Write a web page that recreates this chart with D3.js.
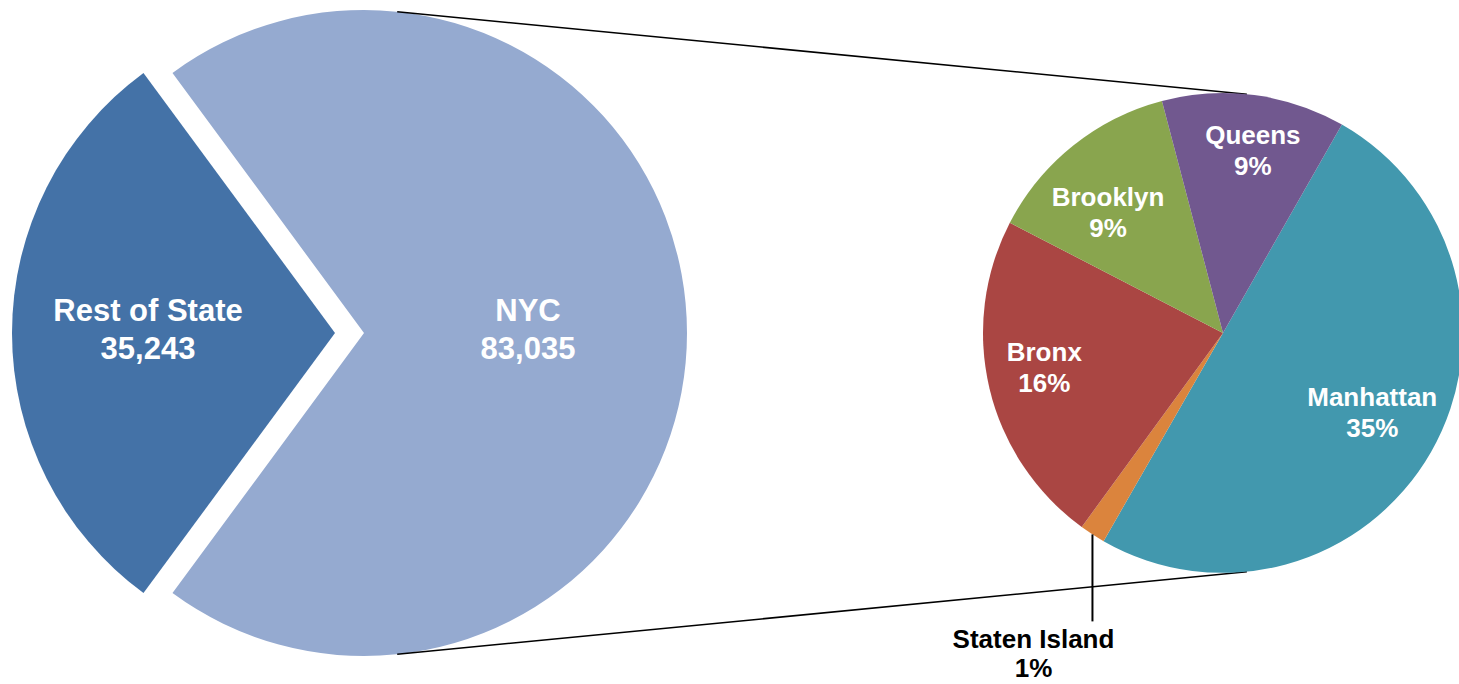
<!DOCTYPE html>
<html>
<head>
<meta charset="utf-8">
<script src="https://cdn.jsdelivr.net/npm/d3@7"></script>
<style>
  html, body { margin: 0; padding: 0; background: #fff; }
  svg { display: block; }
  text { font-family: "Liberation Sans", Arial, sans-serif; font-weight: bold; }
</style>
</head>
<body>
<svg id="chart" width="1459" height="684"></svg>
<script>
// ---- data ----
const mainCategories = ["NYC", "Rest of State"];
const mainValues = [83035, 35243];
const mainColors = ["#95AAD0", "#4472A7"];

const boroughCategories = ["Manhattan", "Staten Island", "Bronx", "Brooklyn", "Queens"];
const boroughValues = [41550, 1435, 18750, 11050, 10250];
const boroughColors = ["#4298AE", "#DB843D", "#AA4643", "#89A54E", "#71588F"];

const total = d3.sum(mainValues);
const fmtNum = d3.format(",");
const fmtPct = v => Math.round(v / total * 100) + "%";

const svg = d3.select("#chart");
const rad = deg => deg * Math.PI / 180;

// ---- left pie ----
const L = { cx: 364, cy: 333, r: 323, explode: 29 };
const restFrac = mainValues[1] / total;
const leftPie = d3.pie().sort(null)
  .startAngle(-Math.PI / 2 + Math.PI * restFrac)
  .endAngle(-Math.PI / 2 + Math.PI * restFrac + 2 * Math.PI);
const leftArc = d3.arc().innerRadius(0).outerRadius(L.r);
const leftData = leftPie(mainValues);
const gL = svg.append("g").attr("transform", `translate(${L.cx},${L.cy})`);
const leftLabelR = [164, 187];
leftData.forEach((d, i) => {
  const mid = (d.startAngle + d.endAngle) / 2;
  const off = i === 1 ? L.explode : 0;
  const ox = off * Math.sin(mid), oy = -off * Math.cos(mid);
  const g = gL.append("g").attr("transform", `translate(${ox},${oy})`);
  g.append("path").attr("d", leftArc(d)).attr("fill", mainColors[i]);
  const lx = leftLabelR[i] * Math.sin(mid), ly = -leftLabelR[i] * Math.cos(mid);
  const t = g.append("text").attr("text-anchor", "middle").attr("fill", "#fff")
    .attr("font-size", 31);
  t.append("tspan").attr("x", lx).attr("y", ly - 12).text(mainCategories[i]);
  t.append("tspan").attr("x", lx).attr("y", ly + 26).text(fmtNum(mainValues[i]));
});

// ---- right pie ----
const R = { cx: 1223, cy: 333, r: 240 };
const rStart = rad(29.7);
const rightPie = d3.pie().sort(null).startAngle(rStart).endAngle(rStart + 2 * Math.PI);
const rightArc = d3.arc().innerRadius(0).outerRadius(R.r);
const rightData = rightPie(boroughValues);

// connector lines
const connL = rad(5.9), connR = rad(5.7);
[[connL, connR], [Math.PI - connL, Math.PI - connR]].forEach(([a1, a2]) => {
  svg.append("line")
    .attr("x1", L.cx + L.r * Math.sin(a1)).attr("y1", L.cy - L.r * Math.cos(a1))
    .attr("x2", R.cx + R.r * Math.sin(a2)).attr("y2", R.cy - R.r * Math.cos(a2))
    .attr("stroke", "#000").attr("stroke-width", 1.5);
});

const gR = svg.append("g").attr("transform", `translate(${R.cx},${R.cy})`);
gR.selectAll("path").data(rightData).join("path")
  .attr("d", rightArc).attr("fill", (d, i) => boroughColors[i]);

// label placement (radius, angle nudge in degrees) per slice
const labelLayout = [[169, -1.8], [0, 0], [182, 2.4], [167, -4.8], [185, 1.8]];
rightData.forEach((d, i) => {
  const mid = (d.startAngle + d.endAngle) / 2;
  if (boroughCategories[i] === "Staten Island") {
    const ex = R.r * Math.sin(mid), ey = -R.r * Math.cos(mid);
    gR.append("line").attr("x1", ex).attr("y1", ey).attr("x2", ex).attr("y2", ey + 87)
      .attr("stroke", "#000").attr("stroke-width", 2);
    const t = gR.append("text").attr("text-anchor", "middle").attr("fill", "#000")
      .attr("font-size", 26);
    t.append("tspan").attr("x", ex - 59).attr("y", ey + 114).text(boroughCategories[i]);
    t.append("tspan").attr("x", ex - 59).attr("y", ey + 143).text(fmtPct(boroughValues[i]));
    return;
  }
  const [lr, da] = labelLayout[i];
  const a = mid + rad(da);
  const lx = lr * Math.sin(a), ly = -lr * Math.cos(a);
  const t = gR.append("text").attr("text-anchor", "middle").attr("fill", "#fff")
    .attr("font-size", 26);
  t.append("tspan").attr("x", lx).attr("y", ly - 6).text(boroughCategories[i]);
  t.append("tspan").attr("x", lx).attr("y", ly + 25).text(fmtPct(boroughValues[i]));
});
</script>
</body>
</html>
